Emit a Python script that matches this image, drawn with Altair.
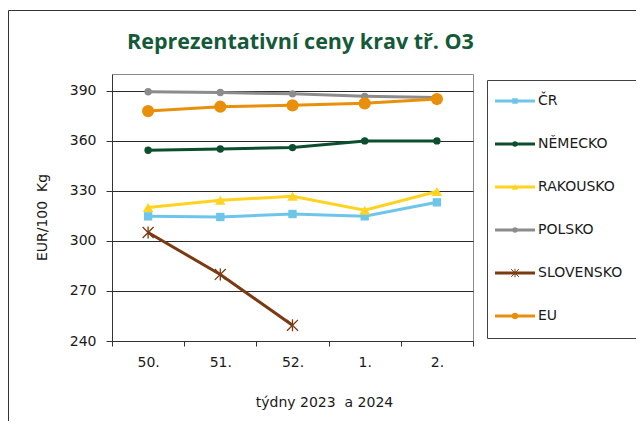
import altair as alt
import pandas as pd

weeks = ["50.", "51.", "52.", "1.", "2."]
series = ["ČR", "NĚMECKO", "RAKOUSKO", "POLSKO", "SLOVENSKO", "EU"]
cr = [314.7, 314.3, 316.1, 314.7, 323.1]
nemecko = [354.3, 355.1, 355.9, 359.9, 359.9]
rakousko = [320.0, 324.3, 326.7, 318.4, 329.6]
polsko = [389.4, 388.9, 388.1, 386.6, 385.9]
slovensko = [305.0, 279.9, 249.4, None, None]
eu = [377.8, 380.4, 381.2, 382.4, 385.0]

colors = ["#6EC5EA", "#0B4F2E", "#FFD320", "#8C8C8C", "#7A3A12", "#E8900C"]
shapes = ["square", "circle", "triangle-up", "circle", "circle", "circle"]
sizes = [70, 55, 110, 55, 55, 150]
legend_sizes = [30, 28, 40, 28, 28, 40]
asterisk = "M-1,-1L1,1M1,-1L-1,1M0,-1.1L0,1.1"

values_by_series = [cr, nemecko, rakousko, polsko, slovensko, eu]
rows = []
for s, vals, sz in zip(series, values_by_series, sizes):
    for w, v in zip(weeks, vals):
        if v is not None:
            rows.append({"week": w, "series": s, "value": v, "msize": sz})
df = pd.DataFrame(rows)
legend_df = pd.DataFrame({"series": series, "msize": legend_sizes})
one = pd.DataFrame({"a": [0]})

FONT = "DejaVu Sans"
NB = "\u00a0"

color_scale = alt.Scale(domain=series, range=colors)
shape_scale = alt.Scale(domain=series, range=shapes)
X = alt.X(
    "week:N",
    sort=weeks,
    scale=alt.Scale(type="band", paddingInner=0, paddingOuter=0),
    axis=alt.Axis(
        title="týdny 2023 " + NB + "a 2024",
        labelAngle=0,
        tickBand="extent",
        tickSize=5,
        labelPadding=9,
        grid=False,
        titleX=212,
        titleY=61,
        titleBaseline="middle",
        titleAlign="center",
    ),
)
Y = alt.Y(
    "value:Q",
    scale=alt.Scale(domain=[240, 400], nice=False, zero=False),
    axis=alt.Axis(
        title="EUR/100 " + NB + "Kg",
        values=[240, 270, 300, 330, 360, 390],
        grid=True,
        tickSize=6,
        labelPadding=10,
        titleX=-70,
        titleY=143,
        titleAngle=-90,
        titleBaseline="middle",
        titleAlign="center",
    ),
)

lines = alt.Chart(df).mark_line(strokeWidth=3).encode(
    x=X, y=Y,
    color=alt.Color("series:N", scale=color_scale, legend=None),
)
pts = alt.Chart(df).mark_point(filled=True, opacity=1).encode(
    x=X, y=Y,
    color=alt.Color("series:N", scale=color_scale, legend=None),
    shape=alt.Shape("series:N", scale=shape_scale, legend=None),
    size=alt.Size("msize:Q", scale=None, legend=None),
).transform_filter(alt.datum.series != "SLOVENSKO")
stars = alt.Chart(df).mark_point(shape=asterisk, filled=False, size=120, strokeWidth=1.3, opacity=1).encode(
    x=X, y=Y,
    color=alt.Color("series:N", scale=color_scale, legend=None),
).transform_filter(alt.datum.series == "SLOVENSKO")

data_layer = alt.layer(lines, pts, stars)

LY = alt.Y("series:N", scale=alt.Scale(type="point", domain=series, range=[27, 242], padding=0), axis=None)
leg_box = alt.Chart(one).mark_rect(fill="white", stroke="#404040", strokeWidth=1).encode(
    x=alt.value(375.5), x2=alt.value(525.5), y=alt.value(6.5), y2=alt.value(264.5)
)
leg_lines = alt.Chart(legend_df).mark_rule(strokeWidth=3).encode(
    x=alt.value(383), x2=alt.value(423), y=LY,
    color=alt.Color("series:N", scale=color_scale, legend=None),
)
leg_pts = alt.Chart(legend_df).mark_point(filled=True, opacity=1).encode(
    x=alt.value(403), y=LY,
    color=alt.Color("series:N", scale=color_scale, legend=None),
    shape=alt.Shape("series:N", scale=shape_scale, legend=None),
    size=alt.Size("msize:Q", scale=None, legend=None),
).transform_filter(alt.datum.series != "SLOVENSKO")
leg_star = alt.Chart(legend_df).mark_point(shape=asterisk, filled=False, size=60, strokeWidth=1, opacity=1).encode(
    x=alt.value(403), y=LY,
    color=alt.Color("series:N", scale=color_scale, legend=None),
).transform_filter(alt.datum.series == "SLOVENSKO")
leg_text = alt.Chart(legend_df).mark_text(align="left", baseline="middle", font=FONT, fontSize=14, color="#1a1a1a").encode(
    x=alt.value(426), y=LY, text="series:N"
)
legend_layer = alt.layer(leg_box, leg_lines, leg_pts, leg_star, leg_text)

outer = alt.Chart(one).mark_rect(fill=None, stroke="#333333", strokeWidth=1).encode(
    x=alt.value(-103.5), x2=alt.value(700), y=alt.value(-63.5), y2=alt.value(500)
)
title = alt.Chart(one).mark_text(
    text="Reprezentativní ceny krav tř. O3", font="Open Sans", fontWeight="bold",
    fontSize=21.5, color="#155A38", align="center", baseline="alphabetic",
).encode(x=alt.value(188.5), y=alt.value(-24.7))

chart = alt.layer(outer, title, data_layer, legend_layer).resolve_scale(y="independent").properties(
    width=361, height=267,
    autosize=alt.AutoSizeParams(type="none"),
    padding={"left": 104, "top": 66, "right": 163, "bottom": 80},
).configure_view(stroke="#8a8a8a", strokeWidth=1).configure_axis(
    labelFont=FONT, labelFontSize=14, labelColor="#1a1a1a",
    titleFont=FONT, titleFontSize=14, titleFontWeight="normal", titleColor="#1a1a1a",
    domainColor="#333333", tickColor="#333333", gridColor="#2a2a2a", gridWidth=1,
)

chart.save("out.html", embed_options={"renderer": "svg", "actions": False})
